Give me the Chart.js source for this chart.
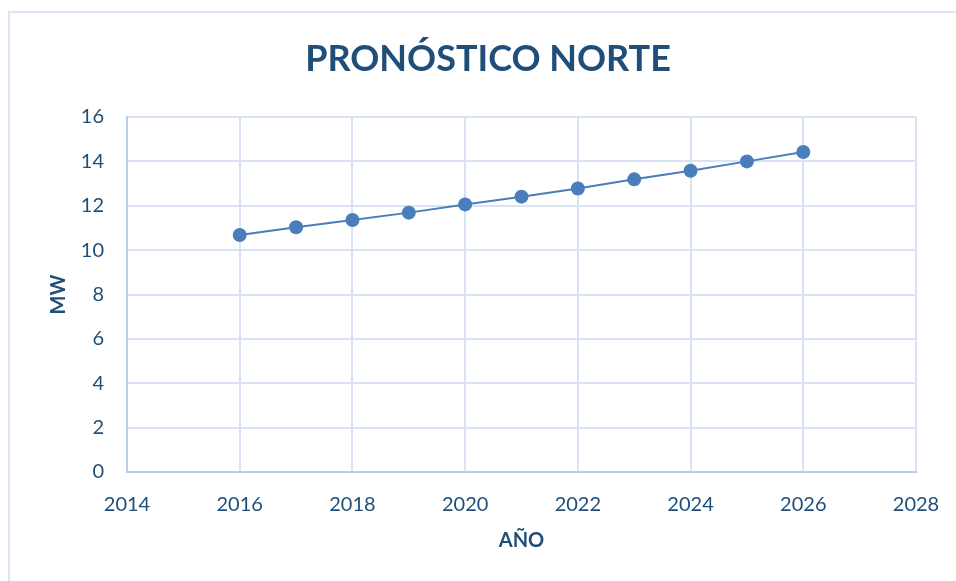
<!DOCTYPE html>
<html>
<head>
<meta charset="utf-8">
<script src="https://cdn.jsdelivr.net/npm/chart.js@4.4.1/dist/chart.umd.min.js"></script>
<style>
  html, body { margin: 0; padding: 0; background: #fff; }
  #wrap { position: relative; width: 956px; height: 581px; }
  #frame {
    position: absolute; left: 8px; top: 11px; right: -4px; bottom: -4px;
    border-left: 2px solid #DCE5F3; border-top: 2px solid #DCE5F3;
    pointer-events: none;
  }
  canvas { position: absolute; left: 0; top: 0; }
</style>
</head>
<body>
<div id="wrap">
  <canvas id="chart" width="956" height="581"></canvas>
  <div id="frame"></div>
</div>
<script>
  // Data
  const years = [2016, 2017, 2018, 2019, 2020, 2021, 2022, 2023, 2024, 2025, 2026];
  const mw = [10.68, 11.03, 11.36, 11.69, 12.06, 12.41, 12.78, 13.19, 13.58, 14.0, 14.42];

  const titleText = 'PRONÓSTICO NORTE';
  const xTitle = 'AÑO';
  const yTitle = 'MW';

  const textColor = '#1F4E79';
  const gridColor = '#D9E3F3';
  const pointColor = '#4A7EBB';

  const points = years.map((y, i) => ({ x: y, y: mw[i] }));

  // Excel centres the title a bit right of the canvas middle, so draw it ourselves
  const titlePlugin = {
    id: 'bigTitle',
    afterDraw(chart) {
      const ctx = chart.ctx;
      ctx.save();
      ctx.font = 'bold 36px Lato';
      ctx.fillStyle = textColor;
      ctx.textAlign = 'center';
      ctx.textBaseline = 'middle';
      ctx.fillText(titleText, 488, 59);
      ctx.restore();
    }
  };

  new Chart(document.getElementById('chart'), {
    type: 'scatter',
    data: {
      datasets: [{
        data: points,
        showLine: true,
        borderColor: pointColor,
        borderWidth: 2,
        backgroundColor: pointColor,
        pointRadius: 7,
        pointHoverRadius: 7,
        pointBorderWidth: 0
      }]
    },
    options: {
      responsive: false,
      animation: false,
      layout: { padding: { left: 20, right: 40, top: 117, bottom: 0 } },
      plugins: {
        legend: { display: false },
        tooltip: { enabled: false },
        title: { display: false }
      },
      scales: {
        x: {
          type: 'linear',
          min: 2014,
          max: 2028,
          afterFit: s => {
            s.height = 581 - 472;
            // let the 2028 label hang into the right margin, like Excel does
            s.paddingLeft = 0;
            s.paddingRight = 0;
          },
          ticks: {
            stepSize: 2,
            color: textColor,
            padding: 21,
            font: { family: 'Lato', size: 20 },
            callback: v => String(v)
          },
          grid: { color: gridColor, lineWidth: 2, drawTicks: false },
          border: { color: '#B9CCEA', width: 2 },
          title: {
            display: true,
            text: xTitle,
            color: textColor,
            font: { family: 'Lato', size: 20, weight: 'bold' },
            padding: { top: 0, bottom: 28 }
          }
        },
        y: {
          min: 0,
          max: 16,
          afterFit: s => { s.width = 127 - 20; },
          ticks: {
            stepSize: 2,
            color: textColor,
            padding: 23,
            font: { family: 'Lato', size: 20 }
          },
          grid: { color: gridColor, lineWidth: 2, drawTicks: false },
          border: { color: '#B9CCEA', width: 2 },
          title: {
            display: true,
            text: yTitle,
            color: textColor,
            font: { family: 'Lato', size: 20, weight: 'bold' },
            padding: { top: 27, bottom: 0 }
          }
        }
      }
    },
    plugins: [titlePlugin]
  });
</script>
</body>
</html>
